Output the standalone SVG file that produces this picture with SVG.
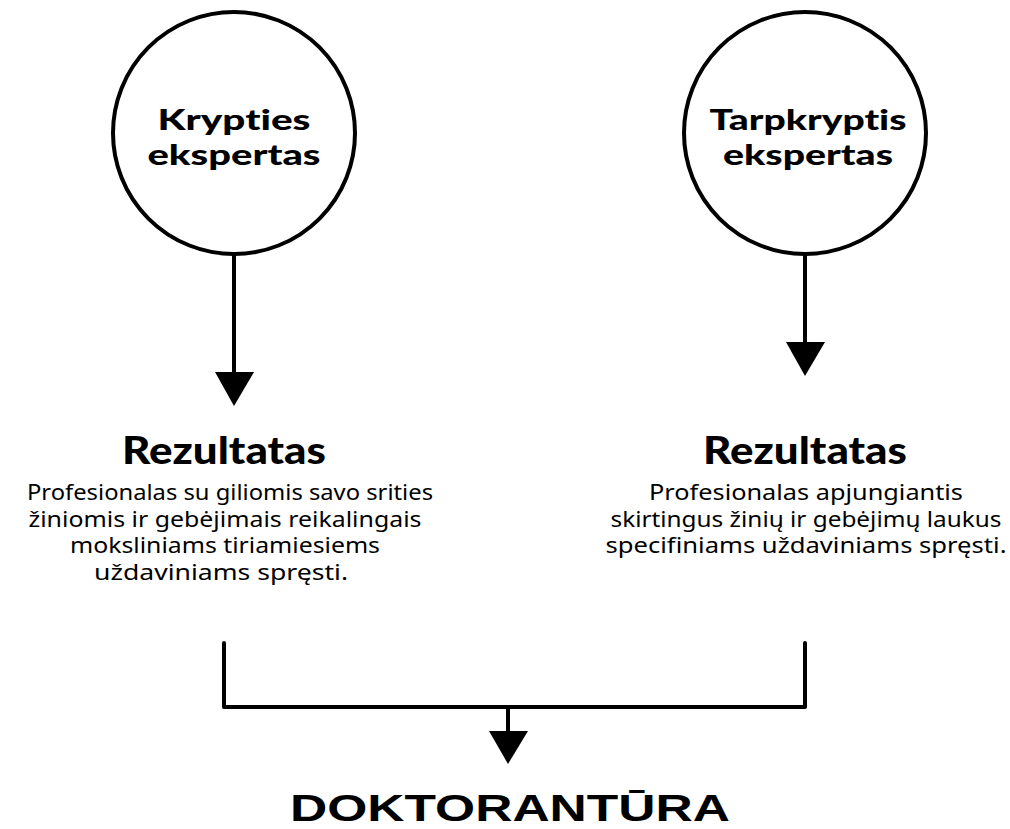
<svg xmlns="http://www.w3.org/2000/svg" width="1010" height="829" viewBox="0 0 1010 829">
<style>
.circ{fill:#fff;stroke:#000;stroke-width:4}
.ln{fill:none;stroke:#000;stroke-width:4;stroke-linecap:round;stroke-linejoin:round}
text{font-variant-ligatures:none}
.hd{font-family:"Lato","Noto Sans","Liberation Sans",sans-serif;font-weight:900;fill:#000;text-anchor:middle}
.ct{font-size:29px}
.rz{font-size:38px}
.bd{font-family:"Noto Sans","Liberation Sans",sans-serif;font-size:21.5px;fill:#000;text-anchor:middle}
.dk{font-family:"Liberation Sans",Arial,sans-serif;font-weight:700;font-size:37px;fill:#000;text-anchor:middle}
</style>
<rect width="1010" height="829" fill="#fff"/>
<g id="connectors">
<line class="ln" x1="234" y1="254" x2="234" y2="374"/>
<polygon points="215,372 254,372 234,406" fill="#000"/>
<line class="ln" x1="805" y1="254" x2="805" y2="344"/>
<polygon points="786,342 825,342 805,376" fill="#000"/>
<polyline class="ln" points="224,643 224,707 805,707 805,643"/>
<line class="ln" x1="508" y1="707" x2="508" y2="733"/>
<polygon points="489,731 528,731 508,764" fill="#000"/>
</g>
<g id="node-krypties">
<circle class="circ" cx="234" cy="133" r="121"/>
<text class="hd ct" x="234" y="130" textLength="153" lengthAdjust="spacingAndGlyphs">Krypties</text>
<text class="hd ct" x="234" y="165" textLength="173" lengthAdjust="spacingAndGlyphs">ekspertas</text>
</g>
<g id="node-tarpkryptis">
<circle class="circ" cx="805" cy="133" r="121"/>
<text class="hd ct" x="808" y="130" textLength="197" lengthAdjust="spacingAndGlyphs">Tarpkryptis</text>
<text class="hd ct" x="808" y="165" textLength="170" lengthAdjust="spacingAndGlyphs">ekspertas</text>
</g>
<g id="node-rezultatas-1">
<text class="hd rz" x="224" y="464" textLength="204" lengthAdjust="spacingAndGlyphs">Rezultatas</text>
<text class="bd" x="230" y="500" textLength="406" lengthAdjust="spacingAndGlyphs">Profesionalas su giliomis savo srities</text>
<text class="bd" x="225" y="526.5" textLength="393" lengthAdjust="spacingAndGlyphs">žiniomis ir gebėjimais reikalingais</text>
<text class="bd" x="225" y="553" textLength="310" lengthAdjust="spacingAndGlyphs">moksliniams tiriamiesiems</text>
<text class="bd" x="221" y="579.5" textLength="254" lengthAdjust="spacingAndGlyphs">uždaviniams spręsti.</text>
</g>
<g id="node-rezultatas-2">
<text class="hd rz" x="805" y="464" textLength="204" lengthAdjust="spacingAndGlyphs">Rezultatas</text>
<text class="bd" x="806" y="500" textLength="314" lengthAdjust="spacingAndGlyphs">Profesionalas apjungiantis</text>
<text class="bd" x="806" y="526.5" textLength="391" lengthAdjust="spacingAndGlyphs">skirtingus žinių ir gebėjimų laukus</text>
<text class="bd" x="806" y="553" textLength="401" lengthAdjust="spacingAndGlyphs">specifiniams uždaviniams spręsti.</text>
</g>
<g id="node-doktorantura">
<text class="dk" x="510" y="821" textLength="440" lengthAdjust="spacingAndGlyphs">DOKTORANTŪRA</text>
</g>
</svg>
